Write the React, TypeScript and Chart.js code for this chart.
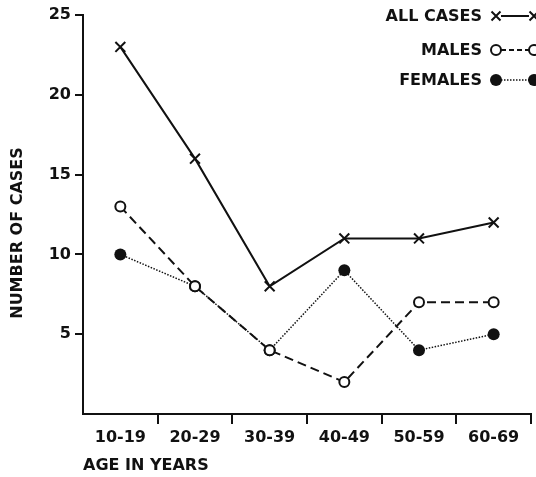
import React, { useEffect, useRef } from "react";
import { Chart, registerables } from "chart.js";

Chart.register(...registerables);

const categories = ["10-19", "20-29", "30-39", "40-49", "50-59", "60-69"];
const allCases = [23, 16, 8, 11, 11, 12];
const males = [13, 8, 4, 2, 7, 7];
const females = [10, 8, 4, 9, 4, 5];
const seriesLabels = ["ALL CASES", "MALES", "FEMALES"];
const yTitle = "NUMBER OF CASES";
const xTitle = "AGE IN YEARS";

const FONT_FAMILY = "'DejaVu Sans', sans-serif";
const INK = "#111";

function drawMarker(ctx: CanvasRenderingContext2D, kind: string, x: number, y: number) {
  ctx.save();
  ctx.strokeStyle = INK;
  ctx.fillStyle = INK;
  if (kind === "x") {
    ctx.lineWidth = 2;
    const r = 4.5;
    ctx.beginPath();
    ctx.moveTo(x - r, y - r);
    ctx.lineTo(x + r, y + r);
    ctx.moveTo(x + r, y - r);
    ctx.lineTo(x - r, y + r);
    ctx.stroke();
  } else if (kind === "open") {
    ctx.lineWidth = 2;
    ctx.fillStyle = "#fff";
    ctx.beginPath();
    ctx.arc(x, y, 5, 0, Math.PI * 2);
    ctx.fill();
    ctx.stroke();
  } else {
    ctx.beginPath();
    ctx.arc(x, y, 6, 0, Math.PI * 2);
    ctx.fill();
  }
  ctx.restore();
}

const annotationPlugin = {
  id: "annotations",
  afterDraw(chart: any) {
    const ctx: CanvasRenderingContext2D = chart.ctx;
    ctx.save();
    ctx.fillStyle = INK;
    ctx.font = `bold 16px ${FONT_FAMILY}`;
    // y title
    ctx.save();
    ctx.translate(18, 233);
    ctx.rotate(-Math.PI / 2);
    ctx.textAlign = "center";
    ctx.textBaseline = "middle";
    ctx.fillText(yTitle, 0, 0);
    ctx.restore();
    // x title
    ctx.textAlign = "left";
    ctx.textBaseline = "middle";
    ctx.fillText(xTitle, chart.chartArea.left, 466);

    // legend
    const rows = [
      { label: seriesLabels[0], y: 16, kind: "x", dash: [] as number[], width: 2 },
      { label: seriesLabels[1], y: 50, kind: "open", dash: [5, 3], width: 2 },
      { label: seriesLabels[2], y: 80, kind: "filled", dash: [1.5, 1.5], width: 1.5 },
    ];
    rows.forEach((r) => {
      ctx.textAlign = "right";
      ctx.textBaseline = "middle";
      ctx.fillStyle = INK;
      ctx.fillText(r.label, 482, r.y + 1);
      const x1 = 496;
      const x2 = 534;
      ctx.save();
      ctx.strokeStyle = INK;
      ctx.lineWidth = r.width;
      ctx.setLineDash(r.dash);
      ctx.beginPath();
      ctx.moveTo(x1 + 5, r.y);
      ctx.lineTo(x2 - 5, r.y);
      ctx.stroke();
      ctx.restore();
      drawMarker(ctx, r.kind, x1, r.y);
      drawMarker(ctx, r.kind, x2, r.y);
    });
    ctx.restore();
  },
};

export default function App() {
  const canvasRef = useRef<HTMLCanvasElement | null>(null);

  useEffect(() => {
    if (!canvasRef.current) return;
    const tickFont = { family: FONT_FAMILY, size: 16, weight: "bold" as const };
    const chart = new Chart(canvasRef.current, {
      type: "line",
      data: {
        labels: categories,
        datasets: [
          {
            label: seriesLabels[0],
            data: allCases,
            borderColor: INK,
            borderWidth: 2,
            pointStyle: "crossRot",
            pointRadius: 7,
            pointBorderWidth: 2,
            pointBorderColor: INK,
            pointBackgroundColor: INK,
            tension: 0,
          },
          {
            label: seriesLabels[1],
            data: males,
            borderColor: INK,
            borderWidth: 2,
            borderDash: [9, 5],
            pointStyle: "circle",
            pointRadius: 5,
            pointBorderWidth: 2,
            pointBorderColor: INK,
            pointBackgroundColor: "#fff",
            tension: 0,
          },
          {
            label: seriesLabels[2],
            data: females,
            borderColor: INK,
            borderWidth: 1.5,
            borderDash: [1.5, 1.5],
            pointStyle: "circle",
            pointRadius: 6,
            pointBorderWidth: 0,
            pointBorderColor: INK,
            pointBackgroundColor: INK,
            tension: 0,
          },
        ],
      },
      options: {
        animation: false,
        responsive: true,
        maintainAspectRatio: false,
        layout: { autoPadding: false, padding: { top: 15, right: 5, left: 0, bottom: 0 } },
        plugins: {
          legend: { display: false },
          tooltip: { enabled: false },
          title: { display: false },
        },
        scales: {
          x: {
            type: "category",
            offset: true,
            grid: {
              offset: true,
              drawOnChartArea: false,
              drawTicks: true,
              tickLength: 10,
              lineWidth: 2,
              color: (c: any) => (c.index === 0 ? "rgba(0,0,0,0)" : INK),
            },
            border: { display: true, color: INK, width: 2 },
            ticks: {
              color: INK,
              font: tickFont,
              padding: 4,
              maxRotation: 0,
              autoSkip: false,
            },
            afterFit: (s: any) => {
              s.height = 63;
            },
          },
          y: {
            min: 0,
            max: 25,
            grid: {
              drawOnChartArea: false,
              drawTicks: true,
              tickLength: 8,
              lineWidth: 2,
              color: (c: any) => (c.tick && c.tick.value === 0 ? "rgba(0,0,0,0)" : INK),
            },
            border: { display: true, color: INK, width: 2 },
            ticks: {
              stepSize: 5,
              color: INK,
              font: tickFont,
              padding: 4,
              callback: (v: any) => (v === 0 ? "" : String(v)),
            },
            afterFit: (s: any) => {
              s.width = 83;
            },
          },
        },
      },
      plugins: [annotationPlugin],
    });
    return () => chart.destroy();
  }, []);

  return (
    <div style={{ position: "fixed", left: 0, top: 0, width: 536, height: 477, background: "#fff" }}>
      <canvas ref={canvasRef} />
    </div>
  );
}
